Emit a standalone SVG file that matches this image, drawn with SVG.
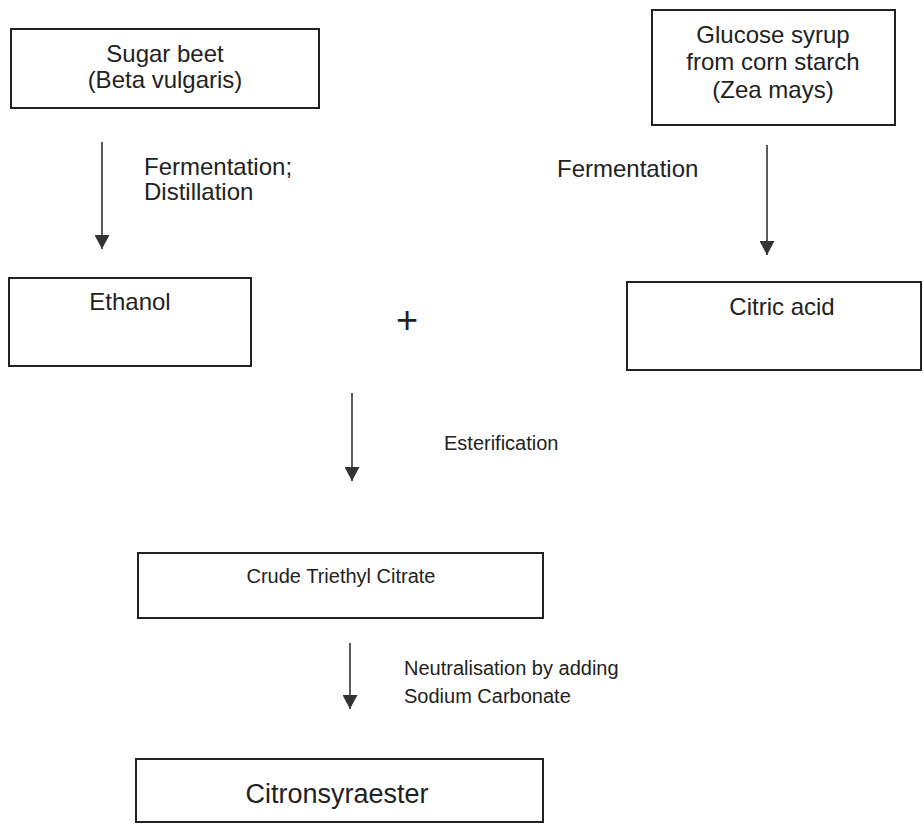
<svg xmlns="http://www.w3.org/2000/svg" width="923" height="824" viewBox="0 0 923 824">
<style>
.box{fill:#fff;stroke:#222;stroke-width:2}
.t{font-family:"Liberation Sans",Arial,sans-serif;fill:#222}
.big{font-size:24px}
.sm{font-size:20px}
.mid{text-anchor:middle}
.conn{stroke:#333;stroke-width:1.6;fill:none}
</style>
<defs>
<marker id="ah" markerUnits="userSpaceOnUse" markerWidth="15" markerHeight="15" refX="14" refY="7.5" orient="auto">
<path d="M0,0 L14,7.5 L0,15 Z" fill="#333"/>
</marker>
</defs>
<rect width="923" height="824" fill="#fff"/>
<g id="sugar-beet">
<rect class="box" x="11" y="29" width="308" height="79"/>
<text class="t big mid" x="165" y="62">Sugar beet</text>
<text class="t big mid" x="165" y="88">(Beta vulgaris)</text>
</g>
<g id="glucose-syrup">
<rect class="box" x="652" y="10" width="243" height="115"/>
<text class="t big mid" x="773" y="43">Glucose syrup</text>
<text class="t big mid" x="773" y="70">from corn starch</text>
<text class="t big mid" x="773" y="98">(Zea mays)</text>
</g>
<g id="ethanol">
<rect class="box" x="9" y="278" width="242" height="88"/>
<text class="t big mid" x="130" y="310">Ethanol</text>
</g>
<g id="plus">
<text class="t mid" x="407" y="333" font-size="38" fill="#333">+</text>
</g>
<g id="citric-acid">
<rect class="box" x="627" y="282" width="294" height="88"/>
<text class="t big mid" x="782" y="315">Citric acid</text>
</g>
<g id="crude-triethyl-citrate">
<rect class="box" x="138" y="553" width="405" height="65"/>
<text class="t sm mid" x="341" y="583">Crude Triethyl Citrate</text>
</g>
<g id="citronsyraester">
<rect class="box" x="136" y="759" width="407" height="63"/>
<text class="t mid" x="337" y="803" font-size="27px" fill="#111">Citronsyraester</text>
</g>
<g id="connectors">
<line class="conn" x1="102" y1="142" x2="102" y2="249" marker-end="url(#ah)"/>
<text class="t big" x="144" y="175">Fermentation;</text>
<text class="t big" x="144" y="200">Distillation</text>
<line class="conn" x1="767" y1="145" x2="767" y2="255" marker-end="url(#ah)"/>
<text class="t big" x="557" y="177">Fermentation</text>
<line class="conn" x1="352" y1="393" x2="352" y2="481" marker-end="url(#ah)"/>
<text class="t sm" x="444" y="450">Esterification</text>
<line class="conn" x1="350" y1="643" x2="350" y2="709" marker-end="url(#ah)"/>
<text class="t sm" x="404" y="675">Neutralisation by adding</text>
<text class="t sm" x="404" y="703">Sodium Carbonate</text>
</g>
</svg>
